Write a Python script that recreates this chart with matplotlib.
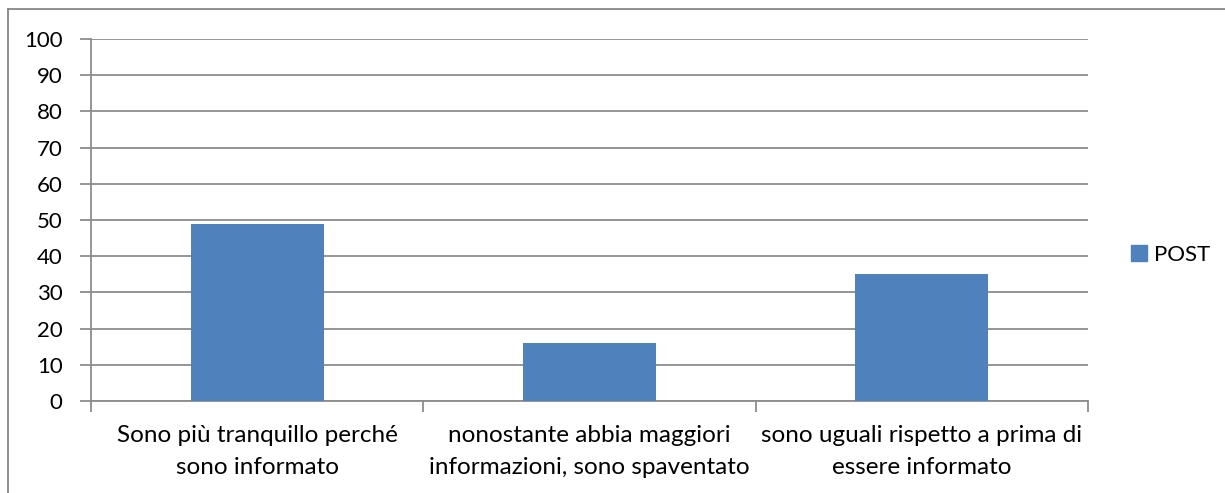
import matplotlib.pyplot as plt
from matplotlib.lines import Line2D
from matplotlib.patches import Patch

# data
categories = [
    "Sono più tranquillo perché\nsono informato",
    "nonostante abbia maggiori\ninformazioni, sono spaventato",
    "sono uguali rispetto a prima di\nessere informato",
]
post_values = [49, 16, 35]
y_ticks = list(range(0, 101, 10))

plt.rcParams['font.family'] = ['Lato', 'DejaVu Sans']

bar_color = '#4F81BD'
grid_color = '#8C8C8C'
fs = 16
fs_cat = 17.5

fig = plt.figure(figsize=(12.25, 4.93), dpi=100)
ax = fig.add_axes([91 / 1225, 1 - 401 / 493, (1088 - 91) / 1225, (401 - 39) / 493])

x = range(len(categories))
ax.bar(x, post_values, width=0.4, color=bar_color, zorder=3, label='POST')

ax.set_xlim(-0.5, len(categories) - 0.5)
ax.set_ylim(0, 100)
ax.set_yticks(y_ticks)
ax.set_yticklabels([str(t) for t in y_ticks], fontsize=fs)
ax.yaxis.grid(True, color=grid_color, linewidth=1.3, zorder=0)

# category labels between boundary ticks
ax.set_xticks([i - 0.5 for i in range(len(categories) + 1)])
ax.set_xticklabels([])
ax.set_xticks(list(x), minor=True)
ax.set_xticklabels(categories, minor=True, fontsize=fs_cat, linespacing=1.6)
ax.tick_params(axis='x', which='minor', length=0, pad=17.5)
ax.tick_params(axis='x', which='major', length=8, width=1.3, color=grid_color)
ax.tick_params(axis='y', length=8, width=1.3, color=grid_color, pad=12.5)

for s in ['top', 'right']:
    ax.spines[s].set_visible(False)
for s in ['left', 'bottom']:
    ax.spines[s].set_color(grid_color)
    ax.spines[s].set_linewidth(1.3)

fig.legend(handles=[Patch(color=bar_color, label='POST')], loc='center left',
           bbox_to_anchor=(1111 / 1225, 1 - 255 / 493), frameon=False,
           fontsize=fs, handlelength=0.72, handleheight=0.72, handletextpad=0.3)

# outer chart frame
fig.add_artist(Line2D([8 / 1225, 8 / 1225], [0, 1 - 9 / 493], color='#868686', linewidth=1.3))
fig.add_artist(Line2D([8 / 1225, 1], [1 - 9 / 493, 1 - 9 / 493], color='#868686', linewidth=1.3))

fig.savefig('out.png', dpi=100)
